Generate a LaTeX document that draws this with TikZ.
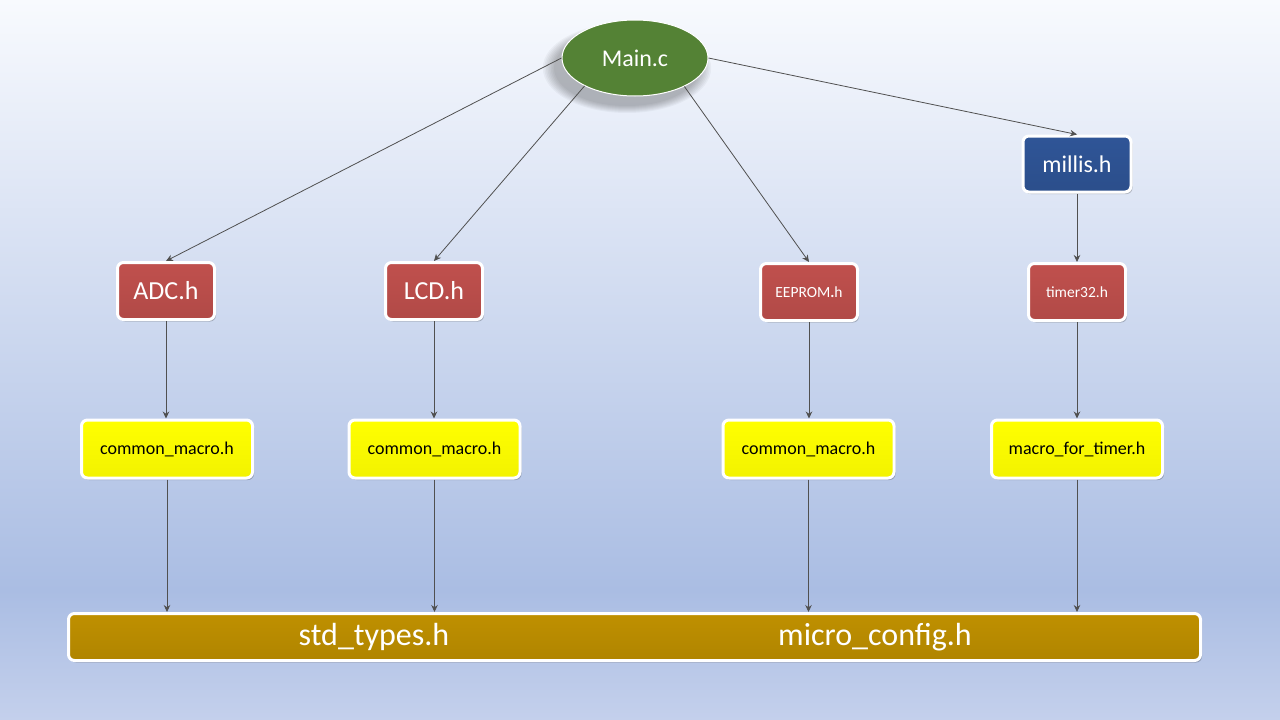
\documentclass[tikz,border=0pt]{standalone}
\usepackage{fontspec}
\setmainfont{Carlito}
\usetikzlibrary{shapes.geometric,arrows.meta,shadows}
\definecolor{bgtop}{RGB}{248,250,254}
\definecolor{bgmid}{RGB}{170,189,227}
\definecolor{bgbot}{RGB}{196,208,236}
\definecolor{greenfill}{RGB}{84,130,53}
\definecolor{redfill}{RGB}{192,80,77}
\definecolor{bluefill}{RGB}{47,85,151}
\definecolor{yellowfill}{RGB}{255,255,0}
\definecolor{goldfill}{RGB}{191,144,0}
\definecolor{linegray}{RGB}{80,80,80}
\begin{document}
\begin{tikzpicture}[x=1pt,y=-1pt,
  boxbase/.style={rectangle, rounded corners=6pt, draw=white, line width=3pt, align=center, inner sep=0pt,
    drop shadow={shadow xshift=1.5pt, shadow yshift=-2pt, opacity=0.22, fill=black}},
  redbox/.style={boxbase, top color=redfill, middle color=redfill, bottom color=redfill!92!black, text=white, minimum width=97pt, minimum height=57pt},
  bluebox/.style={boxbase, top color=bluefill, middle color=bluefill, bottom color=bluefill!92!black, text=white, minimum width=108pt, minimum height=56pt, font=\fontsize{24}{28}\selectfont},
  yellowbox/.style={boxbase, top color=yellowfill, middle color=yellowfill, bottom color=yellowfill!95!black, text=black, minimum width=171pt, minimum height=58pt, font=\fontsize{18}{22}\selectfont},
  barbox/.style={boxbase, top color=goldfill, middle color=goldfill, bottom color=goldfill!92!black, minimum width=1132pt, minimum height=47pt},
  bartext/.style={text=white, font=\fontsize{32}{36}\selectfont, inner sep=0pt},
  big/.style={font=\fontsize{26}{30}\selectfont},
  small/.style={font=\fontsize{15.5}{18}\selectfont},
  mainnode/.style={ellipse, fill=greenfill, draw=white, line width=1pt, text=white, minimum width=146pt, minimum height=76pt, inner sep=0pt,
    font=\fontsize{24}{28}\selectfont},
  conn/.style={draw=linegray, line width=0.8pt, -{Stealth[length=7pt,width=6.5pt]}}
]
\useasboundingbox (0,0) rectangle (1280,720);
\shade[top color=bgtop, bottom color=bgmid] (0,0) rectangle (1280,590);
\shade[top color=bgmid, bottom color=bgbot] (0,590) rectangle (1280,720);

% soft shadow of Main.c
\foreach \r in {0,2,...,14}{
  \fill[black, opacity=0.035] (627,68) ellipse ({73+\r*0.8} and {38+\r*0.5});
}

\node[mainnode] (main) at (635,58) {Main.c};
\node[bluebox] (millis) at (1077,164) {millis.h};

\node[redbox, big] (adc) at (166,291) {ADC.h};
\node[redbox, big] (lcd) at (434,291) {LCD.h};
\node[redbox, small] (eeprom) at (809,292) {EEPROM\textbf{.}h};
\node[redbox, small] (timer) at (1077,292) {timer32.h};

\node[yellowbox] (c1) at (167,449) {common\_macro.h};
\node[yellowbox] (c2) at (434.5,449) {common\_macro.h};
\node[yellowbox] (c3) at (808.5,449) {common\_macro.h};
\node[yellowbox] (c4) at (1077,449) {macro\_for\_timer.h};

\node[barbox] (bar) at (634.5,637) {};
\node[bartext] (std) at (374,637) {std\_types.h};
\node[bartext] (micro) at (875,637) {micro\_config.h};

\draw[conn] (main.west) -- (adc.north);
\draw[conn] (main.209) -- (lcd.north);
\draw[conn] (main.330) -- (eeprom.north);
\draw[conn] (main.east) -- (millis.north);
\draw[conn] (millis.south) -- (timer.north);

\draw[conn] (adc.south) -- (c1.north -| adc.south);
\draw[conn] (lcd.south) -- (c2.north -| lcd.south);
\draw[conn] (eeprom.south) -- (c3.north -| eeprom.south);
\draw[conn] (timer.south) -- (c4.north -| timer.south);

\draw[conn] (c1.south) -- (c1.south |- bar.north);
\draw[conn] (c2.south) -- (c2.south |- bar.north);
\draw[conn] (c3.south) -- (c3.south |- bar.north);
\draw[conn] (c4.south) -- (c4.south |- bar.north);
\end{tikzpicture}
\end{document}
